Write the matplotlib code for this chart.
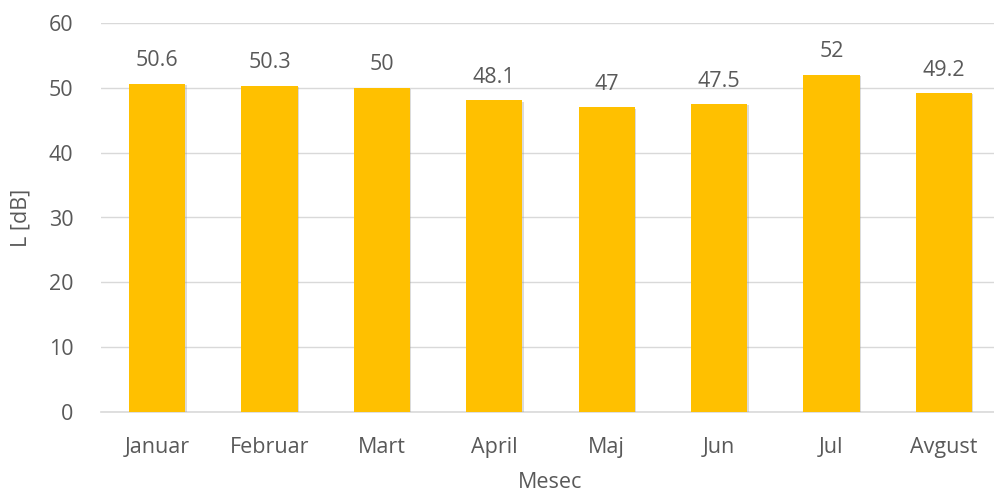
import matplotlib
matplotlib.use("Agg")
import matplotlib.pyplot as plt
import matplotlib.patheffects as pe

months = ["Januar", "Februar", "Mart", "April", "Maj", "Jun", "Jul", "Avgust"]
levels = [50.6, 50.3, 50, 48.1, 47, 47.5, 52, 49.2]
level_labels = ["50.6", "50.3", "50", "48.1", "47", "47.5", "52", "49.2"]

plt.rcParams['font.family'] = ['Open Sans', 'DejaVu Sans']
txt = '#595959'
fs = 15.5

fig = plt.figure(figsize=(9.95, 4.99), dpi=100)
ax = fig.add_axes([101/995, 87/499, 899/995, 389/499])

x = list(range(len(months)))
bars = ax.bar(x, levels, width=0.5, color='#FFC000', zorder=3,
              path_effects=[pe.SimplePatchShadow(offset=(1, -1), shadow_rgbFace='#999999', alpha=0.35),
                            pe.Normal()])

for xi, v, lab in zip(x, levels, level_labels):
    ax.annotate(lab, (xi, v), xytext=(0, 9), textcoords='offset points',
                ha='center', va='bottom', fontsize=fs, color=txt)

ax.set_xlim(-0.5, 7.5)
ax.set_ylim(0, 60)
ax.set_yticks(range(0, 61, 10))
ax.set_xticks(x)
ax.set_xticklabels(months)
ax.yaxis.grid(True, color='#d9d9d9', linewidth=1, zorder=0)
ax.tick_params(axis='both', length=0, labelsize=fs, colors=txt)
ax.tick_params(axis='x', pad=18)
ax.tick_params(axis='y', pad=20)
for s in ['top', 'right', 'left']:
    ax.spines[s].set_visible(False)
ax.spines['bottom'].set_color('#d9d9d9')
ax.spines['bottom'].set_linewidth(1.2)

ax.set_xlabel("Mesec", fontsize=fs, color=txt, labelpad=10)
ax.set_ylabel("L [dB]", fontsize=fs, color=txt, labelpad=12)

fig.savefig("out.png", dpi=100)
